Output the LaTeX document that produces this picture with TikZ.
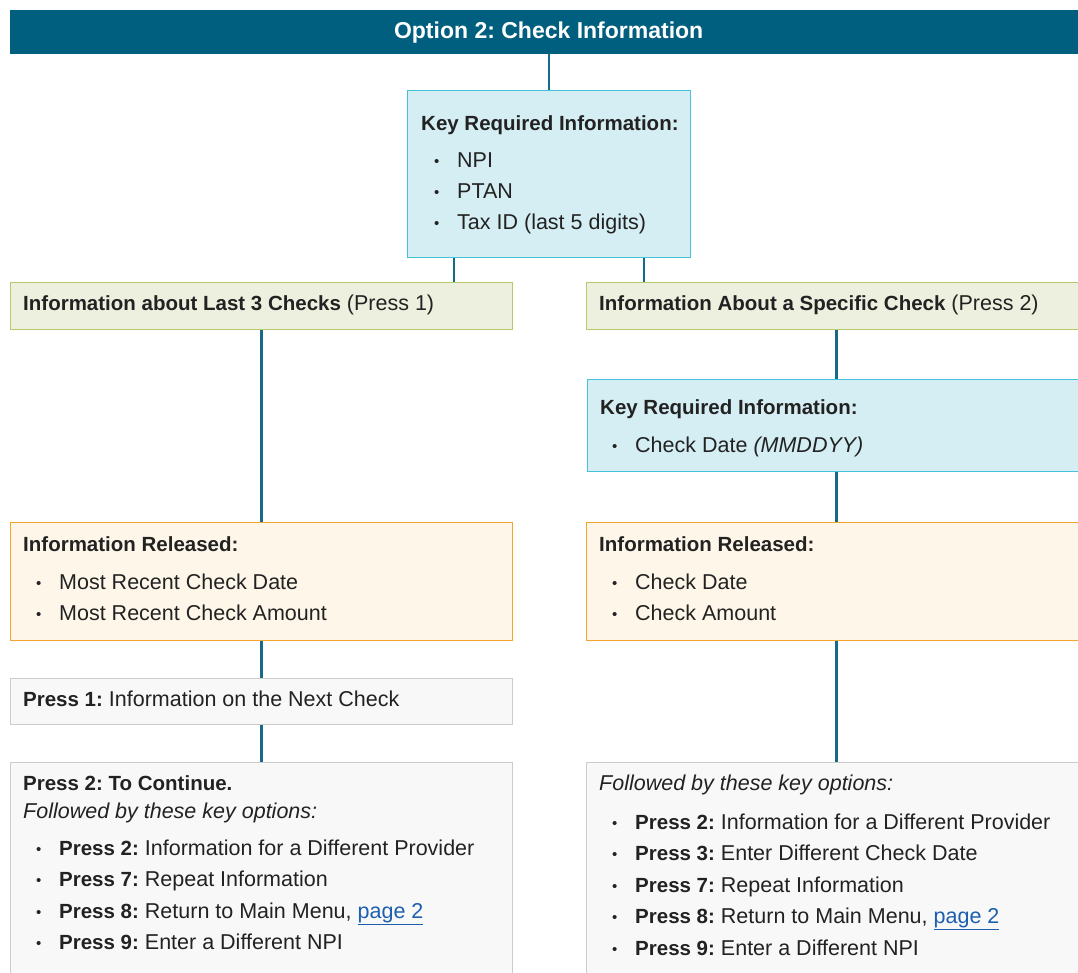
\documentclass[tikz,border=0pt]{standalone}
\usepackage{fontspec}
\setmainfont{Liberation Sans}
\usetikzlibrary{positioning,calc}

\definecolor{hdrC}{HTML}{005F7E}
\definecolor{lineC}{HTML}{146A87}
\definecolor{keyF}{HTML}{D5EEF3}
\definecolor{keyD}{HTML}{45C2DA}
\definecolor{grnF}{HTML}{EEF0DF}
\definecolor{grnD}{HTML}{B7C96B}
\definecolor{orgF}{HTML}{FEF7E9}
\definecolor{orgD}{HTML}{F2A42C}
\definecolor{gryF}{HTML}{F8F8F8}
\definecolor{gryD}{HTML}{CCCCCC}
\definecolor{ink}{HTML}{222222}
\definecolor{linkC}{HTML}{1D5FAF}

\frenchspacing
\newcommand\fs{\fontsize{21.5}{25}\selectfont}
\newcommand\bx[1]{{\fontsize{20.5}{25}\selectfont\bfseries #1}}
\newcommand\itm[1]{\makebox[23pt][l]{\raisebox{1pt}{\fontsize{15}{15}\selectfont\textbullet}}#1}
\newcommand\pg{{\color{linkC}\underline{page 2}}}

\tikzset{
  box/.style={rectangle, inner sep=0pt, line width=1.3pt, anchor=north west},
  hdrbox/.style={box, fill=hdrC, draw=hdrC, text=white, font=\fontsize{23}{27}\selectfont\bfseries},
  keybox/.style={box, fill=keyF, draw=keyD},
  grnbox/.style={box, fill=grnF, draw=grnD},
  orgbox/.style={box, fill=orgF, draw=orgD},
  grybox/.style={box, fill=gryF, draw=gryD},
  txt/.style={inner sep=0pt, anchor=base west, text=ink, font=\fs},
  conn/.style={draw=lineC, line width=2.6pt},
}

\begin{document}
\begin{tikzpicture}[x=1pt, y=-1pt]
\clip (0,0) rectangle (1078,973);

% header
\node[hdrbox, minimum width=1076pt, minimum height=43pt] (hdr) at (10,10) {Option 2: Check Information};

% key information
\node[keybox, minimum width=283pt, minimum height=167pt] (key) at (407,90) {};
\node[txt] (keyT) at (421,131) {\bx{Key Required Information:}};
\foreach \t [count=\i] in {NPI, PTAN, Tax ID (last 5 digits)}
  \node[txt] (keyI\i) at (434,137+31*\i) {\itm{\t}};

% the two branches
\node[grnbox, minimum width=502pt, minimum height=47pt] (last3) at (10,282) {};
\node[txt] (last3T) at (23,311) {\bx{Information about Last 3 Checks} (Press 1)};
\node[grnbox, minimum width=500pt, minimum height=47pt] (spec) at (586,282) {};
\node[txt] (specT) at (599,311) {\bx{Information About a Specific Check} (Press 2)};

% left column
\node[orgbox, minimum width=502pt, minimum height=118pt] (relL) at (10,522) {};
\node[txt] (relLT) at (23,551) {\bx{Information Released:}};
\foreach \t [count=\i] in {Most Recent Check Date, Most Recent Check Amount}
  \node[txt] (relLI\i) at (36,558+31*\i) {\itm{\t}};
\node[grybox, minimum width=502pt, minimum height=46pt] (next) at (10,678) {};
\node[txt] (nextT) at (23,706) {\bx{Press 1:} Information on the Next Check};
\node[grybox, minimum width=502pt, minimum height=230pt] (contL) at (10,762) {};
\node[txt] (contLT) at (23,790) {\bx{Press 2: To Continue.}};
\node[txt] (contLS) at (23,818) {\textit{Followed by these key options:}};
\foreach \k/\t [count=\i] in {2/Information for a Different Provider, 7/Repeat Information,
    8/{Return to Main Menu, \pg}, 9/Enter a Different NPI}
  \node[txt] (contLI\i) at (36,823.5+31.5*\i) {\itm{\bx{Press \k:} \t}};

% right column
\node[keybox, minimum width=500pt, minimum height=92pt] (date) at (587,379) {};
\node[txt] (dateT) at (600,414) {\bx{Key Required Information:}};
\node[txt] (dateI) at (612,452) {\itm{Check Date \textit{(MMDDYY)}}};
\node[orgbox, minimum width=500pt, minimum height=118pt] (relR) at (586,522) {};
\node[txt] (relRT) at (599,551) {\bx{Information Released:}};
\foreach \t [count=\i] in {Check Date, Check Amount}
  \node[txt] (relRI\i) at (612,558+31*\i) {\itm{\t}};
\node[grybox, minimum width=500pt, minimum height=230pt] (contR) at (586,762) {};
\node[txt] (contRS) at (599,790) {\textit{Followed by these key options:}};
\foreach \k/\t [count=\i] in {2/Information for a Different Provider, 3/Enter Different Check Date,
    7/Repeat Information, 8/{Return to Main Menu, \pg}, 9/Enter a Different NPI}
  \node[txt] (contRI\i) at (612,797.5+31.5*\i) {\itm{\bx{Press \k:} \t}};

% connectors
\draw[conn] (key.north |- hdr.south) -- (key.north);
\draw[conn] ([xshift=47pt]key.south west) -- ([xshift=47pt]key.south west |- last3.north);
\draw[conn] ([xshift=237pt]key.south west) -- ([xshift=237pt]key.south west |- spec.north);
\draw[conn] (last3) -- (relL);
\draw[conn] (relL) -- (next);
\draw[conn] (next) -- (contL);
\draw[conn] (spec.south) -- (spec.south |- date.north);
\draw[conn] (spec.south |- date.south) -- (spec.south |- relR.north);
\draw[conn] (relR) -- (contR);
\end{tikzpicture}
\end{document}
